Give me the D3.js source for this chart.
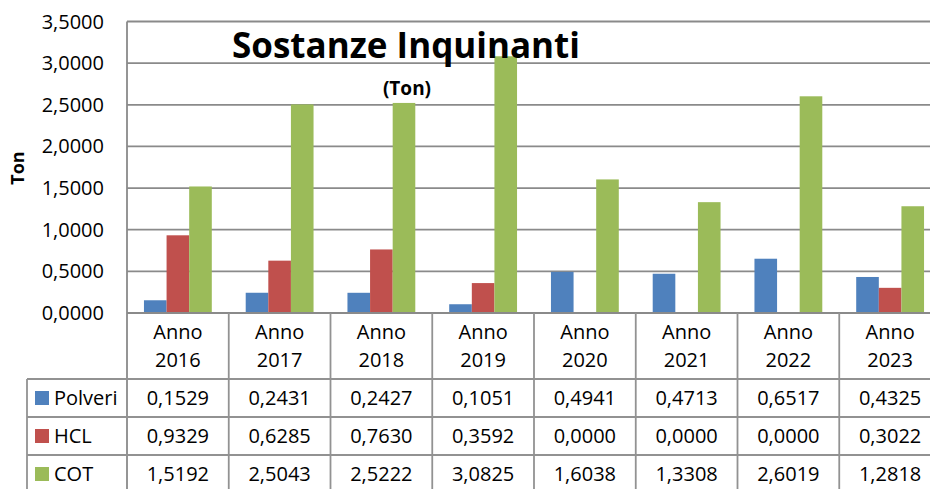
<!DOCTYPE html>
<html>
<head>
<meta charset="utf-8">
<script src="https://cdn.jsdelivr.net/npm/d3@7"></script>
<style>
  body { margin: 0; background: #fff; }
  text { font-family: "Open Sans", sans-serif; fill: #000; }
</style>
</head>
<body>
<div id="grafico"></div>
<script>
const anni = ["2016", "2017", "2018", "2019", "2020", "2021", "2022", "2023"];
const serie = ["Polveri", "HCL", "COT"];
const polveri = [0.1529, 0.2431, 0.2427, 0.1051, 0.4941, 0.4713, 0.6517, 0.4325];
const hcl = [0.9329, 0.6285, 0.7630, 0.3592, 0.0000, 0.0000, 0.0000, 0.3022];
const cot = [1.5192, 2.5043, 2.5222, 3.0825, 1.6038, 1.3308, 2.6019, 1.2818];
const tickY = [0, 0.5, 1, 1.5, 2, 2.5, 3, 3.5];
const colori = ["#4F81BD", "#C0504D", "#9BBB59"];

const valori = { Polveri: polveri, HCL: hcl, COT: cot };

const width = 930;
const height = 489;

const svg = d3.select("#grafico")
    .append("svg")
    .attr("width", width)
    .attr("height", height);

// area del grafico (continua oltre il bordo destro come nell'originale)
const sx = 127, dx = 941;
const yTop = 21.5, yBase = 313;

const x0 = d3.scaleBand().domain(anni).range([sx, dx]).padding(0);
const x1 = d3.scaleBand().domain(serie).range([0, x0.bandwidth()])
    .paddingInner(0).paddingOuter(0.75);
const y = d3.scaleLinear().domain([0, 3.5]).range([yBase, yTop]);

const fmt = v => d3.format(".4f")(v).replace(".", ",");

// griglia
svg.append("g")
    .selectAll("line")
    .data(tickY.filter(d => d > 0))
    .enter()
    .append("line")
    .attr("x1", sx).attr("x2", dx)
    .attr("y1", d => y(d)).attr("y2", d => y(d))
    .attr("stroke", "#8a8a8a")
    .attr("stroke-width", 1.8);

// etichette asse Y
svg.append("g")
    .selectAll("text")
    .data(tickY)
    .enter()
    .append("text")
    .attr("x", 104)
    .attr("y", d => y(d) + 7)
    .attr("text-anchor", "end")
    .style("font-size", "20px")
    .text(d => fmt(d));

// barre
const gruppi = svg.append("g")
    .selectAll("g")
    .data(anni)
    .enter()
    .append("g")
    .attr("transform", d => `translate(${x0(d)},0)`);

gruppi.selectAll("rect")
    .data((anno, i) => serie.map((s, j) => ({ s, v: valori[s][i], c: colori[j] })))
    .enter()
    .append("rect")
    .attr("x", d => x1(d.s))
    .attr("y", d => y(d.v))
    .attr("width", x1.bandwidth())
    .attr("height", d => yBase - y(d.v))
    .attr("fill", d => d.c);

// bordo sinistro area e asse
svg.append("line")
    .attr("x1", sx).attr("x2", sx).attr("y1", yTop).attr("y2", height)
    .attr("stroke", "#8a8a8a").attr("stroke-width", 1.8);
svg.append("line")
    .attr("x1", sx).attr("x2", dx).attr("y1", yBase).attr("y2", yBase)
    .attr("stroke", "#8a8a8a").attr("stroke-width", 1.8);

// tabella dati
const rigaTop = 379, rigaH = 38, legX = 27;

svg.append("g")
    .selectAll("line")
    .data(anni.slice(1).concat(["fine"]))
    .enter()
    .append("line")
    .attr("x1", (d, i) => sx + (i + 1) * x0.bandwidth())
    .attr("x2", (d, i) => sx + (i + 1) * x0.bandwidth())
    .attr("y1", yBase).attr("y2", height)
    .attr("stroke", "#929292").attr("stroke-width", 1.8);

svg.append("g")
    .selectAll("line")
    .data([0, 1, 2, 3])
    .enter()
    .append("line")
    .attr("x1", legX).attr("x2", dx)
    .attr("y1", d => rigaTop + d * rigaH).attr("y2", d => rigaTop + d * rigaH)
    .attr("stroke", "#929292").attr("stroke-width", 1.8);

svg.append("line")
    .attr("x1", legX).attr("x2", legX).attr("y1", rigaTop).attr("y2", height)
    .attr("stroke", "#929292").attr("stroke-width", 1.8);

// etichette categorie
const cat = svg.append("g")
    .selectAll("text")
    .data(anni)
    .enter()
    .append("text")
    .attr("x", d => x0(d) + x0.bandwidth() / 2)
    .attr("text-anchor", "middle")
    .style("font-size", "20px");
cat.append("tspan").attr("x", d => x0(d) + x0.bandwidth() / 2).attr("y", 339).text("Anno");
cat.append("tspan").attr("x", d => x0(d) + x0.bandwidth() / 2).attr("y", 367).text(d => d);

// righe della tabella
serie.forEach((s, j) => {
    const cy = rigaTop + j * rigaH + rigaH / 2;
    svg.append("rect")
        .attr("x", 35).attr("y", cy - 7)
        .attr("width", 14).attr("height", 14)
        .attr("fill", colori[j]);
    svg.append("text")
        .attr("x", 54).attr("y", cy + 7)
        .style("font-size", "20px")
        .text(s);
    svg.append("g")
        .selectAll("text")
        .data(valori[s])
        .enter()
        .append("text")
        .attr("x", (d, i) => x0(anni[i]) + x0.bandwidth() / 2)
        .attr("y", cy + 7)
        .attr("text-anchor", "middle")
        .style("font-size", "20px")
        .text(d => fmt(d));
});

// titoli
svg.append("text")
    .attr("x", 406).attr("y", 58)
    .attr("text-anchor", "middle")
    .style("font-size", "35px")
    .style("font-weight", "bold")
    .text("Sostanze Inquinanti");

svg.append("text")
    .attr("x", 407).attr("y", 95)
    .attr("text-anchor", "middle")
    .style("font-size", "19px")
    .style("font-weight", "bold")
    .text("(Ton)");

svg.append("text")
    .attr("transform", "translate(24,168) rotate(-90)")
    .attr("text-anchor", "middle")
    .style("font-size", "18px")
    .style("font-weight", "bold")
    .text("Ton");
</script>
</body>
</html>
